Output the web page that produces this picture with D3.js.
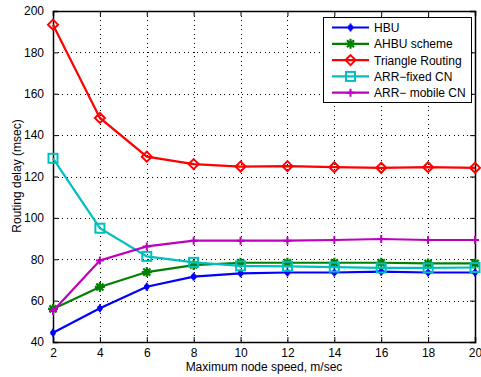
<!DOCTYPE html>
<html>
<head>
<meta charset="utf-8">
<script src="https://cdn.jsdelivr.net/npm/d3@7"></script>
<style>
  body { margin: 0; background: #fff; }
  svg { display: block; font-family: "Liberation Sans", Arial, sans-serif; }
</style>
</head>
<body>
<svg id="chart" width="481" height="377"></svg>
<script>
// speeds on x axis
var speeds = [2, 4, 6, 8, 10, 12, 14, 16, 18, 20];

// routing delay per scheme (msec)
var hbu      = [44.5, 56.3, 66.7, 71.6, 73.2, 73.6, 73.6, 74.0, 73.6, 73.6];
var ahbu     = [56.0, 66.6, 73.8, 77.2, 78.3, 78.3, 78.3, 78.3, 78.0, 78.0];
var triangle = [193.4, 148.3, 129.6, 126.0, 124.8, 125.0, 124.5, 124.2, 124.5, 124.2];
var arrFixed = [128.8, 95.0, 81.4, 78.5, 76.8, 76.6, 76.2, 75.8, 75.8, 76.0];
var arrMobile = [55.0, 79.4, 86.2, 89.0, 89.0, 89.0, 89.3, 89.8, 89.3, 89.3];

var seriesNames = ["HBU", "AHBU scheme", "Triangle Routing", "ARR\u2212fixed CN", "ARR\u2212 mobile CN"];
var yTicks = [40, 60, 80, 100, 120, 140, 160, 180, 200];

(function() {
  var series = [
    { name: seriesNames[0], values: hbu, color: "#0000ff", marker: "dot" },
    { name: seriesNames[1], values: ahbu, color: "#008000", marker: "star" },
    { name: seriesNames[2], values: triangle, color: "#ff0000", marker: "diamond" },
    { name: seriesNames[3], values: arrFixed, color: "#00bfbf", marker: "square" },
    { name: seriesNames[4], values: arrMobile, color: "#bf00bf", marker: "plus" }
  ];

  var svg = d3.select("#chart");
  var pl = 53, pr = 475, pt = 11, pb = 342;

  var x = d3.scaleLinear().domain([2, 20]).range([pl, pr]);
  var y = d3.scaleLinear().domain([40, 200]).range([pb, pt]);

  // dotted grid
  var grid = svg.append("g").attr("stroke", "#000").attr("stroke-width", 1)
    .attr("stroke-dasharray", "1,3.5").attr("shape-rendering", "crispEdges");
  speeds.slice(1, -1).forEach(function(s) {
    grid.append("line").attr("x1", Math.round(x(s)) + 0.5).attr("x2", Math.round(x(s)) + 0.5)
      .attr("y1", pt).attr("y2", pb);
  });
  yTicks.slice(1, -1).forEach(function(v) {
    grid.append("line").attr("x1", pl).attr("x2", pr)
      .attr("y1", Math.round(y(v)) + 0.5).attr("y2", Math.round(y(v)) + 0.5);
  });

  // axes, ticks inside like matlab
  var tl = 5;
  svg.append("g").attr("transform", "translate(0," + pb + ")")
    .call(d3.axisBottom(x).tickValues(speeds).tickSize(-tl).tickPadding(1 + tl));
  svg.append("g").attr("transform", "translate(0," + pt + ")")
    .call(d3.axisTop(x).tickValues(speeds).tickSize(-tl).tickFormat(""));
  svg.append("g").attr("transform", "translate(" + pl + ",0)")
    .call(d3.axisLeft(y).tickValues(yTicks).tickSize(-tl).tickPadding(4 + tl));
  svg.append("g").attr("transform", "translate(" + pr + ",0)")
    .call(d3.axisRight(y).tickValues(yTicks).tickSize(-tl).tickFormat(""));

  svg.selectAll(".domain").attr("stroke", "#000").attr("stroke-width", 1.5);
  svg.selectAll(".tick line").attr("stroke", "#000");
  svg.selectAll(".tick text").attr("font-size", 12).attr("fill", "#000")
    .attr("font-family", "Liberation Sans, Arial, sans-serif");

  // markers
  function drawMarker(g, type, cx, cy, color) {
    if (type === "diamond") {
      g.append("path").attr("d", "M" + cx + "," + (cy - 5) + "L" + (cx + 5) + "," + cy + "L" + cx + "," + (cy + 5) + "L" + (cx - 5) + "," + cy + "Z")
        .attr("fill", "none").attr("stroke", color).attr("stroke-width", 2);
    } else if (type === "square") {
      g.append("rect").attr("x", cx - 4.5).attr("y", cy - 4.5).attr("width", 9).attr("height", 9)
        .attr("fill", "none").attr("stroke", color).attr("stroke-width", 2);
    } else if (type === "plus") {
      g.append("path").attr("d", "M" + (cx - 4) + "," + cy + "H" + (cx + 4) + "M" + cx + "," + (cy - 4) + "V" + (cy + 4))
        .attr("stroke", color).attr("stroke-width", 2);
    } else if (type === "star") {
      var r = 5, d = "";
      for (var k = 0; k < 4; k++) {
        var a = k * Math.PI / 4;
        d += "M" + (cx - r * Math.cos(a)) + "," + (cy - r * Math.sin(a)) + "L" + (cx + r * Math.cos(a)) + "," + (cy + r * Math.sin(a));
      }
      g.append("path").attr("d", d).attr("stroke", color).attr("stroke-width", 2.2);
      g.append("circle").attr("cx", cx).attr("cy", cy).attr("r", 2.5).attr("fill", color);
    } else {
      g.append("circle").attr("cx", cx).attr("cy", cy).attr("r", 2.8).attr("fill", color);
      g.append("path").attr("d", "M" + cx + "," + (cy - 4) + "V" + (cy + 4))
        .attr("stroke", color).attr("stroke-width", 2);
    }
  }

  var line = d3.line().x(function(d, i) { return x(speeds[i]); }).y(function(d) { return y(d); });

  series.forEach(function(s) {
    var g = svg.append("g");
    g.append("path").datum(s.values).attr("d", line)
      .attr("fill", "none").attr("stroke", s.color).attr("stroke-width", 2.2);
    s.values.forEach(function(v, i) { drawMarker(g, s.marker, x(speeds[i]), y(v), s.color); });
  });

  // legend
  var lg = svg.append("g");
  lg.append("rect").attr("x", 323.5).attr("y", 17.5).attr("width", 148).attr("height", 85)
    .attr("fill", "#fff").attr("stroke", "#000").attr("stroke-width", 1);
  series.forEach(function(s, i) {
    var ly = 27.5 + i * 16.3;
    lg.append("line").attr("x1", 332).attr("x2", 369).attr("y1", ly).attr("y2", ly)
      .attr("stroke", s.color).attr("stroke-width", 2.2);
    drawMarker(lg, s.marker, 350.5, ly, s.color);
    lg.append("text").attr("x", 374).attr("y", ly + 4.5).attr("font-size", 12).text(s.name);
  });

  // axis labels
  svg.append("text").attr("x", 264).attr("y", 371).attr("text-anchor", "middle")
    .attr("font-size", 12).text("Maximum node speed, m/sec");
  svg.append("text").attr("transform", "translate(21,176) rotate(-90)").attr("text-anchor", "middle")
    .attr("font-size", 12).text("Routing delay (msec)");
})();
</script>
</body>
</html>
